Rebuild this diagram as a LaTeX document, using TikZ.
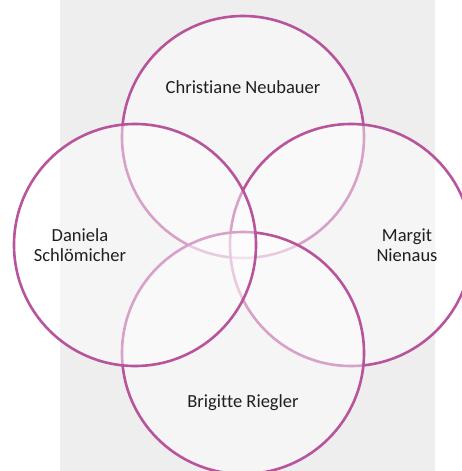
\documentclass[tikz,border=0pt]{standalone}
\usepackage{fontspec}
\setmainfont{Carlito}[Ligatures=NoCommon]
\begin{document}
\begin{tikzpicture}[x=1pt, y=-1pt, line join=round,
    every node/.style={inner sep=1pt, align=center, text=black!88,
      font=\fontsize{18.5}{20.5}\selectfont}]
  \definecolor{vennRim}{RGB}{184,84,156}
  \definecolor{bgGray}{RGB}{238,238,238}
  \tikzset{venn/.style={fill=white, fill opacity=0.45, draw=vennRim, line width=2.6pt}}
  \useasboundingbox (0,0) rectangle (462,471);
  % backdrop band
  \fill[bgGray] (60,0) rectangle (435,471);
  % four circles: top, right, bottom, left (later ones cover earlier rims)
  \draw[venn] (243,137) circle [radius=121pt];
  \draw[venn] (351,245) circle [radius=121pt];
  \draw[venn] (243,353) circle [radius=121pt];
  \draw[venn] (135,245) circle [radius=121pt];
  % names
  \node (cNeu) at (243,87) {Christiane Neubauer};
  \node (dSch) at (80,245) {Daniela\\Schlömicher};
  \node (mNie) at (407,245) {Margit\\Nienaus};
  \node (bRie) at (243,403) {Brigitte Riegler};
\end{tikzpicture}
\end{document}
